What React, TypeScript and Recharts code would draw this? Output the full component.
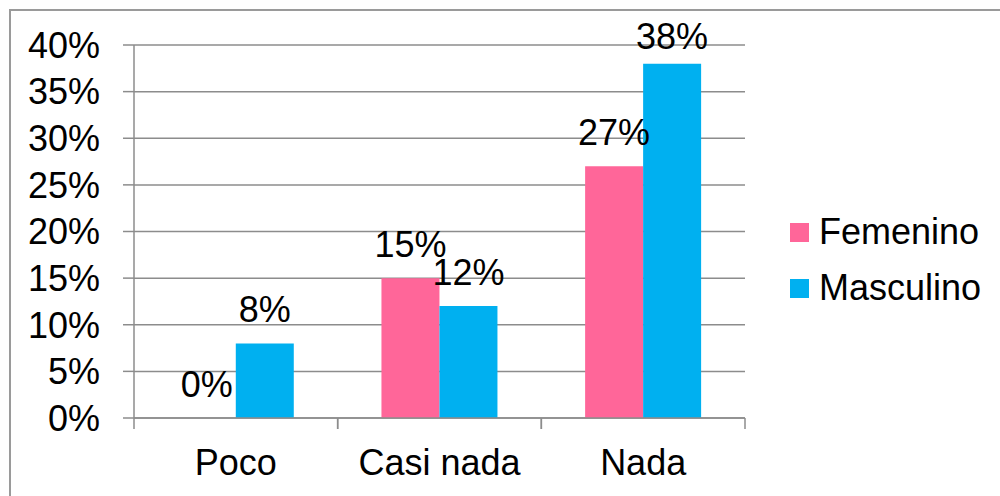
import { BarChart, Bar, XAxis, YAxis, CartesianGrid, LabelList } from 'recharts'

const CATEGORIES = ['Poco', 'Casi nada', 'Nada']
const FEMENINO = [0, 15, 27]
const MASCULINO = [8, 12, 38]
const Y_TICKS = [0, 5, 10, 15, 20, 25, 30, 35, 40]
const SERIES = [
  { key: 'femenino', name: 'Femenino', color: '#FF6699' },
  { key: 'masculino', name: 'Masculino', color: '#00B0F0' },
]

const data = CATEGORIES.map((name, i) => ({
  name,
  femenino: FEMENINO[i],
  masculino: MASCULINO[i],
}))

const FONT = '"Liberation Sans", Arial, sans-serif'
const GRID = '#8c8c8c'

function CategoryTick(props: any) {
  const { x, y, payload, width } = props
  const half = payload?.offset ?? (width ?? 611) / CATEGORIES.length / 2
  return (
    <g>
      <line x1={x - half} x2={x - half} y1={y} y2={y + 11} stroke={GRID} strokeWidth={1.5} />
      <line x1={x + half} x2={x + half} y1={y} y2={y + 11} stroke={GRID} strokeWidth={1.5} />
      <text x={x} y={y + 57} textAnchor="middle" fill="#000" fontSize={36} fontFamily={FONT}>
        {payload.value}
      </text>
    </g>
  )
}

// value label above a bar, kept inside the chart area like the original
function ValueLabel(props: any) {
  const { x, y, width, height, value } = props
  if (x == null || y == null) return null
  const top = Math.min(y, y + (height ?? 0))
  const baseline = Math.max(top - 21, 49)
  return (
    <text x={x + width / 2} y={baseline} textAnchor="middle" fill="#000" fontSize={36} fontFamily={FONT}>
      {`${value}%`}
    </text>
  )
}

export default function App() {
  return (
    <div style={{ position: 'absolute', left: 0, top: 0, width: 1000, height: 496, background: '#fff', overflow: 'hidden' }}>
      <div
        style={{
          position: 'absolute',
          left: 9,
          top: 9,
          width: 1200,
          height: 800,
          borderTop: '2px solid #9a9a9a',
          borderLeft: '2px solid #9a9a9a',
        }}
      />
      <div style={{ position: 'absolute', left: 0, top: 0 }}>
        <BarChart
          width={1000}
          height={496}
          data={data}
          margin={{ top: 45, right: 255, bottom: 0, left: 0 }}
          barCategoryGap="21.5%"
          barGap={0}
        >
          <CartesianGrid vertical={false} stroke={GRID} strokeWidth={1.5} />
          <XAxis
            dataKey="name"
            height={78}
            axisLine={{ stroke: GRID, strokeWidth: 1.5 }}
            tickLine={false}
            tickSize={0}
            tickMargin={0}
            tick={<CategoryTick />}
            interval={0}
          />
          <YAxis
            width={134}
            domain={[0, 40]}
            ticks={Y_TICKS}
            interval={0}
            tickFormatter={(v: number) => `${v}%`}
            axisLine={{ stroke: GRID, strokeWidth: 1.5 }}
            tickLine={{ stroke: GRID, strokeWidth: 1.5 }}
            tickSize={11}
            tickMargin={23}
            tick={{ fill: '#000', fontSize: 36, fontFamily: FONT }}
          />
          {SERIES.map((s) => (
            <Bar
              key={s.key}
              dataKey={s.key}
              name={s.name}
              fill={s.color}
              minPointSize={0.01}
              isAnimationActive={false}
            >
              <LabelList dataKey={s.key} content={<ValueLabel />} />
            </Bar>
          ))}
        </BarChart>
      </div>
      <div style={{ position: 'absolute', left: 790, top: 204, fontFamily: FONT, fontSize: 36, color: '#000' }}>
        {SERIES.map((s) => (
          <div key={s.key} style={{ display: 'flex', alignItems: 'center', height: 56, whiteSpace: 'nowrap' }}>
            <span style={{ display: 'inline-block', width: 19, height: 19, background: s.color, marginRight: 10 }} />
            <span style={{ lineHeight: '40px' }}>{s.name}</span>
          </div>
        ))}
      </div>
    </div>
  )
}
